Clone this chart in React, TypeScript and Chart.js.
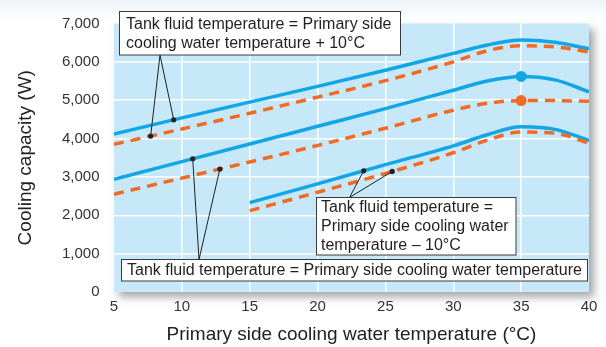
import React, { useEffect, useRef } from "react";
import { Chart, registerables } from "chart.js";

Chart.register(...registerables);

// ---- data ----
const temps = [5, 10, 15, 20, 25, 30, 32.5, 35, 37.5, 40];
const tempsLow = [15, 20, 25, 30, 32.5, 35, 37.5, 40];

const plus10Solid = [4120, 4540, 4950, 5360, 5780, 6220, 6440, 6570, 6510, 6340];
const plus10Dashed = [3850, 4250, 4660, 5080, 5510, 6000, 6290, 6420, 6390, 6260];
const equalSolid = [2940, 3400, 3860, 4320, 4780, 5260, 5500, 5620, 5530, 5220];
const equalDashed = [2550, 2970, 3390, 3820, 4270, 4740, 4920, 4990, 4990, 4970];
const minus10Solid = [2330, 2820, 3320, 3810, 4100, 4310, 4240, 3950];
const minus10Dashed = [2120, 2600, 3090, 3630, 3960, 4170, 4140, 3880];

const markerTemp = 35;
const xMin = 5;
const xMax = 40;
const xStep = 5;
const yMin = 0;
const yMax = 7000;
const yStep = 1000;

const xTitle = "Primary side cooling water temperature (°C)";
const yTitle = "Cooling capacity (W)";

const labelPlus10 = ["Tank fluid temperature = Primary side", "cooling water temperature + 10°C"];
const labelEqual = ["Tank fluid temperature = Primary side cooling water temperature"];
const labelMinus10 = ["Tank fluid temperature =", "Primary side cooling water", "temperature – 10°C"];

// callout target temperatures (points on the curves)
const plus10Targets = [9.4, 7.7];
const equalTargets = [10.8, 12.8];
const minus10Targets = [23.4, 25.5];

const BLUE = "#13a6e6";
const ORANGE = "#f26a24";
const PLOT_BG = "#c6e8f8";
const FONT = '"Liberation Sans", Arial, Helvetica, sans-serif';

function interp(xs: number[], ys: number[], x: number): number {
  for (let i = 0; i < xs.length - 1; i++) {
    if (x >= xs[i] && x <= xs[i + 1]) {
      const t = (x - xs[i]) / (xs[i + 1] - xs[i]);
      return ys[i] + t * (ys[i + 1] - ys[i]);
    }
  }
  return ys[ys.length - 1];
}

const toPts = (xs: number[], ys: number[]) => xs.map((x, i) => ({ x, y: ys[i] }));

export default function App() {
  const ref = useRef<HTMLCanvasElement | null>(null);

  useEffect(() => {
    const canvas = ref.current;
    if (!canvas) return;

    const annotations = [
      {
        lines: labelPlus10,
        box: { x: 119.5, y: 11.5, w: 281, h: 43.5 },
        textX: 126,
        lineYs: [25, 43.5],
        anchor: { x: 160, y: 55 },
        targets: [
          { xs: temps, ys: plus10Solid, x: plus10Targets[0] },
          { xs: temps, ys: plus10Dashed, x: plus10Targets[1] },
        ],
      },
      {
        lines: labelEqual,
        box: { x: 121.5, y: 259.5, w: 466, h: 21.5 },
        textX: 127,
        lineYs: [270.5],
        anchor: { x: 199, y: 259.5 },
        targets: [
          { xs: temps, ys: equalSolid, x: equalTargets[0] },
          { xs: temps, ys: equalDashed, x: equalTargets[1] },
        ],
      },
      {
        lines: labelMinus10,
        box: { x: 316.5, y: 197.5, w: 199.5, h: 57.5 },
        textX: 321,
        lineYs: [207.5, 226.5, 245.5],
        anchor: { x: 349.5, y: 197.5 },
        targets: [
          { xs: tempsLow, ys: minus10Solid, x: minus10Targets[0] },
          { xs: tempsLow, ys: minus10Dashed, x: minus10Targets[1] },
        ],
      },
    ];

    const bgPlugin = {
      id: "bgPlugin",
      beforeDraw(chart: any) {
        const { ctx, chartArea, width, height } = chart;
        ctx.save();
        ctx.fillStyle = "#ffffff";
        ctx.fillRect(0, 0, width, height);
        const g = ctx.createLinearGradient(0, 0, 0, 30);
        g.addColorStop(0, "rgba(225,234,242,0.6)");
        g.addColorStop(1, "rgba(255,255,255,0)");
        ctx.fillStyle = g;
        ctx.fillRect(0, 0, width, 30);
        ctx.shadowColor = "rgba(0,0,0,0.35)";
        ctx.shadowBlur = 8;
        ctx.shadowOffsetX = 5;
        ctx.shadowOffsetY = 5;
        ctx.fillStyle = PLOT_BG;
        ctx.fillRect(chartArea.left, chartArea.top, chartArea.right - chartArea.left, chartArea.bottom - chartArea.top);
        ctx.restore();
      },
    };

    const calloutPlugin = {
      id: "calloutPlugin",
      afterDraw(chart: any) {
        const { ctx } = chart;
        const xs = chart.scales.x;
        const ys = chart.scales.y;
        ctx.save();
        for (const a of annotations) {
          ctx.strokeStyle = "#222";
          ctx.lineWidth = 1;
          ctx.fillStyle = "#222";
          for (const t of a.targets) {
            const px = xs.getPixelForValue(t.x);
            const py = ys.getPixelForValue(interp(t.xs, t.ys, t.x));
            ctx.beginPath();
            ctx.moveTo(a.anchor.x, a.anchor.y);
            ctx.lineTo(px, py);
            ctx.stroke();
            ctx.beginPath();
            ctx.arc(px, py, 2.6, 0, Math.PI * 2);
            ctx.fill();
          }
          ctx.fillStyle = "#ffffff";
          ctx.fillRect(a.box.x, a.box.y, a.box.w, a.box.h);
          ctx.strokeStyle = "#3a3a3a";
          ctx.strokeRect(a.box.x, a.box.y, a.box.w, a.box.h);
          ctx.fillStyle = "#231f20";
          ctx.font = `16px ${FONT}`;
          ctx.textBaseline = "middle";
          ctx.textAlign = "left";
          a.lines.forEach((ln, i) => ctx.fillText(ln, a.textX, a.lineYs[i]));
        }
        ctx.restore();
      },
    };

    const markerRadius = (xsArr: number[]) => (c: any) => (xsArr[c.dataIndex] === markerTemp ? 5.5 : 0);

    const solid = (data: any, marker: boolean, xsArr: number[]) => ({
      data,
      borderColor: BLUE,
      backgroundColor: BLUE,
      borderWidth: 3.5,
      pointRadius: marker ? markerRadius(xsArr) : 0,
      pointBorderWidth: 0,
      pointHoverRadius: 0,
      cubicInterpolationMode: "monotone" as const,
      fill: false,
    });
    const dashed = (data: any, marker: boolean, xsArr: number[]) => ({
      data,
      borderColor: ORANGE,
      backgroundColor: ORANGE,
      borderWidth: 3.5,
      borderDash: [10, 7],
      pointRadius: marker ? markerRadius(xsArr) : 0,
      pointBorderWidth: 0,
      pointHoverRadius: 0,
      cubicInterpolationMode: "monotone" as const,
      fill: false,
    });

    const chart = new Chart(canvas, {
      type: "line",
      data: {
        datasets: [
          dashed(toPts(temps, plus10Dashed), false, temps),
          solid(toPts(temps, plus10Solid), false, temps),
          dashed(toPts(temps, equalDashed), true, temps),
          solid(toPts(temps, equalSolid), true, temps),
          dashed(toPts(tempsLow, minus10Dashed), false, tempsLow),
          solid(toPts(tempsLow, minus10Solid), false, tempsLow),
        ] as any,
      },
      options: {
        responsive: false,
        animation: false,
        devicePixelRatio: 1,
        layout: { padding: { left: 0, top: 21, right: 17, bottom: 0 } },
        plugins: { legend: { display: false }, tooltip: { enabled: false } },
        events: [],
        scales: {
          x: {
            type: "linear",
            min: xMin,
            max: xMax,
            border: { display: false },
            grid: {
              color: (c: any) => (c.tick && (c.tick.value === xMin || c.tick.value === xMax) ? "rgba(0,0,0,0)" : "#ffffff"),
              lineWidth: 1.5,
              drawTicks: false,
            },
            ticks: {
              stepSize: xStep,
              padding: 6,
              color: "#333",
              font: { family: FONT, size: 15 },
              maxRotation: 0,
            },
            title: {
              display: true,
              text: xTitle,
              color: "#222",
              font: { family: FONT, size: 19 },
              padding: { top: 0, bottom: 1 },
            },
            afterFit(s: any) {
              s.height = 55;
            },
          },
          y: {
            type: "linear",
            min: yMin,
            max: yMax,
            border: { display: false },
            grid: {
              color: (c: any) => (c.tick && (c.tick.value === yMin || c.tick.value === yMax) ? "rgba(0,0,0,0)" : "#ffffff"),
              lineWidth: 1.5,
              drawTicks: false,
            },
            ticks: {
              stepSize: yStep,
              padding: 14.5,
              color: "#333",
              font: { family: FONT, size: 15 },
              callback: (v: any) => Number(v).toLocaleString("en-US"),
            },
            title: {
              display: true,
              text: yTitle,
              color: "#222",
              font: { family: FONT, size: 19 },
              padding: { top: 14.5, bottom: 0 },
            },
            afterFit(s: any) {
              s.width = 114;
            },
          },
        },
      },
      plugins: [bgPlugin, calloutPlugin],
    });

    return () => chart.destroy();
  }, []);

  return (
    <div style={{ position: "fixed", left: 0, top: 0, width: 606, height: 347, background: "#fff" }}>
      <canvas ref={ref} width={606} height={347} style={{ display: "block", width: 606, height: 347 }} />
    </div>
  );
}
